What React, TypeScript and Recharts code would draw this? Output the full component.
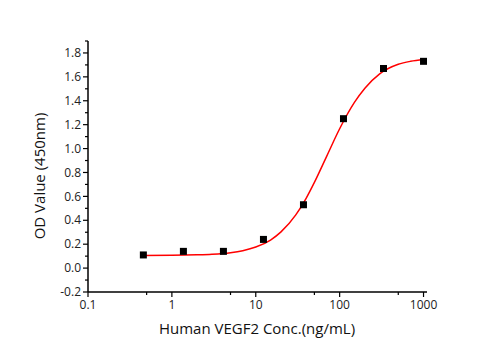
import React from "react";
import {
  ComposedChart,
  Line,
  Scatter,
  XAxis,
  YAxis,
  Label,
} from "recharts";

// measured points (3-fold dilution series)
const concentrations = [0.457, 1.372, 4.115, 12.35, 37.04, 111.1, 333.3, 1000];
const odValues = [0.11, 0.14, 0.14, 0.24, 0.53, 1.25, 1.67, 1.73];

// fitted curve
const curveConc = [0.457, 1, 2, 3, 5, 7, 10, 15, 20, 30, 40, 50, 70, 100, 150, 200, 300, 500, 700, 1000];
const curveOd = [0.106, 0.107, 0.111, 0.116, 0.129, 0.146, 0.176, 0.235, 0.303, 0.445, 0.586, 0.717, 0.935, 1.166, 1.386, 1.505, 1.625, 1.705, 1.73, 1.745];

const xTicks = [0.1, 0.5, 1, 5, 10, 50, 100, 500, 1000];
const xMajor = [0.1, 1, 10, 100, 1000];
const yTicks = [-0.2, -0.1, 0, 0.1, 0.2, 0.3, 0.4, 0.5, 0.6, 0.7, 0.8, 0.9, 1.0, 1.1, 1.2, 1.3, 1.4, 1.5, 1.6, 1.7, 1.8, 1.9];
const yMajor = [-0.2, 0, 0.2, 0.4, 0.6, 0.8, 1.0, 1.2, 1.4, 1.6, 1.8];

const points = concentrations.map((x, i) => ({ x, y: odValues[i] }));
const curve = curveConc.map((x, i) => ({ x, y: curveOd[i] }));

const FONT = "'Open Sans', sans-serif";

const isMajor = (list: number[], v: number) =>
  list.some((m) => Math.abs(m - v) < 1e-9);

const YTick = (props: any) => {
  const { x, y, payload } = props;
  const major = isMajor(yMajor, payload.value);
  return (
    <g>
      <line x1={x} x2={x - (major ? 5 : 3)} y1={y} y2={y} stroke="#000" strokeWidth={1.2} />
      {major && (
        <text
          x={x - 7}
          y={y}
          dy="0.35em"
          textAnchor="end"
          fontSize={12}
          fontFamily={FONT}
          fill="#222"
        >
          {payload.value.toFixed(1)}
        </text>
      )}
    </g>
  );
};

const XTick = (props: any) => {
  const { x, y, payload } = props;
  const major = isMajor(xMajor, payload.value);
  return (
    <g>
      <line x1={x} x2={x} y1={y} y2={y + (major ? 5 : 3)} stroke="#000" strokeWidth={1.2} />
      {major && (
        <text
          x={x}
          y={y + 17}
          textAnchor="middle"
          fontSize={12}
          fontFamily={FONT}
          fill="#222"
        >
          {String(payload.value)}
        </text>
      )}
    </g>
  );
};

const SquareDot = (props: any) => {
  const { cx, cy } = props;
  return <rect x={cx - 3.5} y={cy - 3.5} width={7} height={7} fill="#000" />;
};

export default function App() {
  return (
    <div style={{ position: "absolute", left: 0, top: 0, background: "#fff" }}>
      <ComposedChart
        width={495}
        height={350}
        margin={{ top: 41, right: 68, left: 0, bottom: 8 }}
      >
        <XAxis
          dataKey="x"
          type="number"
          scale="log"
          domain={[0.1, 1100]}
          ticks={xTicks}
          interval={0}
          tick={<XTick />}
          tickLine={false}
          tickSize={0}
          tickMargin={0}
          axisLine={{ stroke: "#000", strokeWidth: 1.5 }}
          height={50}
          allowDataOverflow
        >
          <Label
            content={() => (
              <text
                x={257}
                y={334}
                textAnchor="middle"
                fontSize={15}
                fontFamily={FONT}
                fill="#111"
              >
                Human VEGF2 Conc.(ng/mL)
              </text>
            )}
          />
        </XAxis>
        <YAxis
          dataKey="y"
          type="number"
          domain={[-0.2, 1.9]}
          ticks={yTicks}
          interval={0}
          tick={<YTick />}
          tickLine={false}
          tickSize={0}
          tickMargin={0}
          width={88}
          axisLine={{ stroke: "#000", strokeWidth: 1.5 }}
          allowDataOverflow
        >
          <Label
            content={() => (
              <text
                x={45}
                y={176}
                transform="rotate(-90 45 176)"
                textAnchor="middle"
                fontSize={15}
                fontFamily={FONT}
                fill="#111"
              >
                OD Value (450nm)
              </text>
            )}
          />
        </YAxis>
        <Line
          data={curve}
          dataKey="y"
          type="monotone"
          stroke="#ff0000"
          strokeWidth={1.5}
          dot={false}
          isAnimationActive={false}
        />
        <Scatter
          data={points}
          dataKey="y"
          shape={<SquareDot />}
          isAnimationActive={false}
        />
      </ComposedChart>
    </div>
  );
}
